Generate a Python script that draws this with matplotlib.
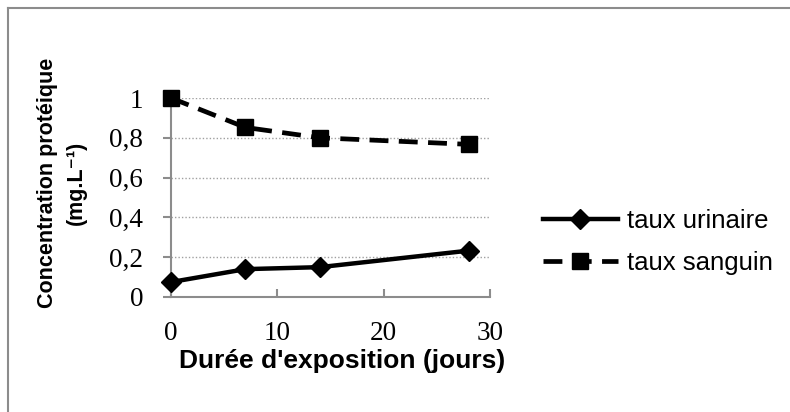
import matplotlib
matplotlib.use("Agg")
import matplotlib.pyplot as plt
from matplotlib.lines import Line2D

# data
jours = [0, 7, 14, 28]
taux_urinaire = [0.075, 0.14, 0.15, 0.233]
taux_sanguin = [1.0, 0.852, 0.80, 0.767]
yticks = [0, 0.2, 0.4, 0.6, 0.8, 1.0]
ytick_labels = ["0", "0,2", "0,4", "0,6", "0,8", "1"]
xticks = [0, 10, 20, 30]

fig = plt.figure(figsize=(7.9, 4.12), dpi=100)
ax = fig.add_axes([171 / 790, 115 / 412, 319 / 790, 199 / 412])

# outer frame (only top and left edges visible)
fig.add_artist(Line2D([8 / 790, 8 / 790], [0, 1 - 8 / 412], color="#8c8c8c", lw=1.5))
fig.add_artist(Line2D([8 / 790, 1], [1 - 8 / 412, 1 - 8 / 412], color="#8c8c8c", lw=1.5))

ax.plot(jours, taux_urinaire, color="black", lw=3.2, marker="D", ms=10,
        label="taux urinaire", clip_on=False, zorder=3)
ax.plot(jours, taux_sanguin, color="black", lw=3.4, ls=(0, (4, 2.2)), marker="s", ms=12,
        label="taux sanguin", clip_on=False, zorder=3)

ax.set_xlim(0, 30)
ax.set_ylim(0, 1)
ax.set_xticks(xticks)
ax.set_yticks(yticks)
ax.set_yticklabels(ytick_labels)
ax.yaxis.grid(True, color="#a0a0a0", ls=(0, (1, 1.5)), lw=1)
ax.set_axisbelow(True)

for s in ["top", "right"]:
    ax.spines[s].set_visible(False)
ax.spines["left"].set_color("#8c8c8c")
ax.spines["bottom"].set_color("#8c8c8c")
ax.spines["left"].set_linewidth(1.5)
ax.spines["bottom"].set_linewidth(1.5)
ax.tick_params(axis="y", direction="out", length=6, width=1.5, color="#8c8c8c",
               labelsize=19.5, pad=14)
ax.tick_params(axis="x", direction="in", length=6, width=1.5, color="#8c8c8c",
               labelsize=19.5, pad=17)
for lab in ax.get_xticklabels() + ax.get_yticklabels():
    lab.set_family("Liberation Serif")

ax.set_xlabel("Durée d'exposition (jours)", fontsize=19, fontweight="bold",
              family="Liberation Sans")
ax.xaxis.set_label_coords(0.535, -0.262)
ax.set_ylabel("Concentration protéique\n(mg.L\u207b\u00b9)", fontsize=15.5,
              fontweight="bold", family=["Liberation Sans", "DejaVu Sans"], linespacing=1.5)
ax.yaxis.set_label_coords(-0.263, 0.575)

ax.legend(loc="center left", bbox_to_anchor=(1.094, 0.275), frameon=False,
          prop={"family": "Liberation Sans", "size": 18.5}, handlelength=2.9,
          labelspacing=0.7, handletextpad=0.35)

fig.savefig("out.png", dpi=100)
